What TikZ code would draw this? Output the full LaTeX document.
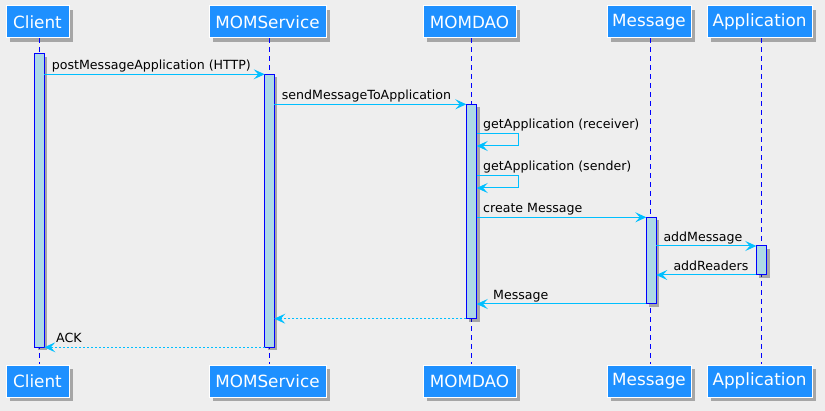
\documentclass[tikz,border=0pt]{standalone}
\usepackage{fontspec}
\setmainfont{DejaVu Sans}
\usetikzlibrary{arrows.meta,shadows}
\definecolor{bg}{HTML}{EEEEEE}
\definecolor{hdr}{HTML}{1E90FF}
\definecolor{msg}{HTML}{00BFFF}
\definecolor{barfill}{HTML}{ADD8E6}
\definecolor{lifec}{HTML}{0000FF}
\tikzset{
  part/.style={draw=white, line width=1pt, fill=hdr, text=white, inner sep=0pt,
    minimum height=32pt, font=\fontsize{16.8}{20}\selectfont,
    drop shadow={shadow xshift=4pt, shadow yshift=-4pt, fill=black, opacity=0.3}},
  life/.style={draw=lifec, line width=0.8pt, dash pattern=on 5pt off 4pt},
  actbar/.style={draw=lifec, line width=1pt, fill=barfill,
    drop shadow={shadow xshift=3pt, shadow yshift=-3pt, fill=black, opacity=0.3}},
  call/.style={draw=msg, line width=1pt, -{Stealth[length=11pt,width=10pt,inset=4.5pt]}},
  ret/.style={call, dash pattern=on 2pt off 2pt},
  lbl/.style={anchor=base west, inner sep=0pt, font=\fontsize{12.6}{15}\selectfont, text=black}
}
\begin{document}
\begin{tikzpicture}[x=1pt,y=-1pt]
\fill[bg] (0,0) rectangle (825,411);
\useasboundingbox (0,0) rectangle (825,411);
% participants (top)
\node[part, minimum width=63pt]  (cT) at (37.5,22) {Client};
\node[part, minimum width=117pt] (sT) at (267.5,22) {MOMService};
\node[part, minimum width=93pt]  (dT) at (469.5,22) {MOMDAO};
\node[part, minimum width=84pt]  (mT) at (649,22) {Message};
\node[part, minimum width=105pt] (aT) at (759.5,22) {Application};
% participants (bottom)
\node[part, minimum width=63pt]  (cB) at (37.5,381.3) {Client};
\node[part, minimum width=117pt] (sB) at (267.5,381.3) {MOMService};
\node[part, minimum width=93pt]  (dB) at (469.5,381.3) {MOMDAO};
\node[part, minimum width=84pt]  (mB) at (649,381.3) {Message};
\node[part, minimum width=105pt] (aB) at (759.5,381.3) {Application};
% lifelines
\coordinate (cl1) at (39.3,38.5);  \coordinate (cl2) at (39.3,364.5);
\coordinate (sl1) at (269.3,38.5); \coordinate (sl2) at (269.3,364.5);
\coordinate (dl1) at (471.3,38.5); \coordinate (dl2) at (471.3,364.5);
\coordinate (ml1) at (650,38.5);   \coordinate (ml2) at (650,364.5);
\coordinate (al1) at (761,38.5);   \coordinate (al2) at (761,364.5);
\draw[life] (cl1) -- (cl2);
\draw[life] (sl1) -- (sl2);
\draw[life] (dl1) -- (dl2);
\draw[life] (ml1) -- (ml2);
\draw[life] (al1) -- (al2);
% activation bars
\path[actbar] (34.7,54) rectangle (44.3,347.3);
\path[actbar] (264.7,74.3) rectangle (274.3,347.3);
\path[actbar] (466.3,104.3) rectangle (476.7,318.7);
\path[actbar] (646.3,217.3) rectangle (656.3,304);
\path[actbar] (756.3,246) rectangle (766.7,275);
% message endpoints
\coordinate (m1a) at (44.3,74.3);   \coordinate (m1b) at (264.7,74.3);
\coordinate (m2a) at (274.3,104.3); \coordinate (m2b) at (466.3,104.3);
\coordinate (m3a) at (476.7,133.3); \coordinate (m3r) at (518.3,133.3);
\coordinate (m3s) at (518.3,146);   \coordinate (m3b) at (476.7,146);
\coordinate (m4a) at (476.7,175.3); \coordinate (m4r) at (518.3,175.3);
\coordinate (m4s) at (518.3,188);   \coordinate (m4b) at (476.7,188);
\coordinate (m5a) at (476.7,217.3); \coordinate (m5b) at (646.3,217.3);
\coordinate (m6a) at (656.3,246);   \coordinate (m6b) at (756.3,246);
\coordinate (m7a) at (756.3,275);   \coordinate (m7b) at (656.3,275);
\coordinate (m8a) at (646.3,304);   \coordinate (m8b) at (476.7,304);
\coordinate (m9a) at (466.3,318.7); \coordinate (m9b) at (274.3,318.7);
\coordinate (m10a) at (264.7,347.3); \coordinate (m10b) at (44.3,347.3);
% messages
\draw[call] (m1a) -- (m1b);
\node[lbl] (t1) at (51.7,69.8) {postMessageApplication (HTTP)};
\draw[call] (m2a) -- (m2b);
\node[lbl] (t2) at (281.7,99.8) {sendMessageToApplication};
\draw[call] (m3a) -- (m3r) -- (m3s) -- (m3b);
\node[lbl] (t3) at (483,128.6) {getApplication (receiver)};
\draw[call] (m4a) -- (m4r) -- (m4s) -- (m4b);
\node[lbl] (t4) at (483,170.6) {getApplication (sender)};
\draw[call] (m5a) -- (m5b);
\node[lbl] (t5) at (483,212.6) {create Message};
\draw[call] (m6a) -- (m6b);
\node[lbl] (t6) at (663.3,241.5) {addMessage};
\draw[call] (m7a) -- (m7b);
\node[lbl] (t7) at (673.3,270.5) {addReaders};
\draw[call] (m8a) -- (m8b);
\node[lbl] (t8) at (493,299.5) {Message};
\draw[ret] (m9a) -- (m9b);
\draw[ret] (m10a) -- (m10b);
\node[lbl] (t10) at (56,342.8) {ACK};
\end{tikzpicture}
\end{document}
